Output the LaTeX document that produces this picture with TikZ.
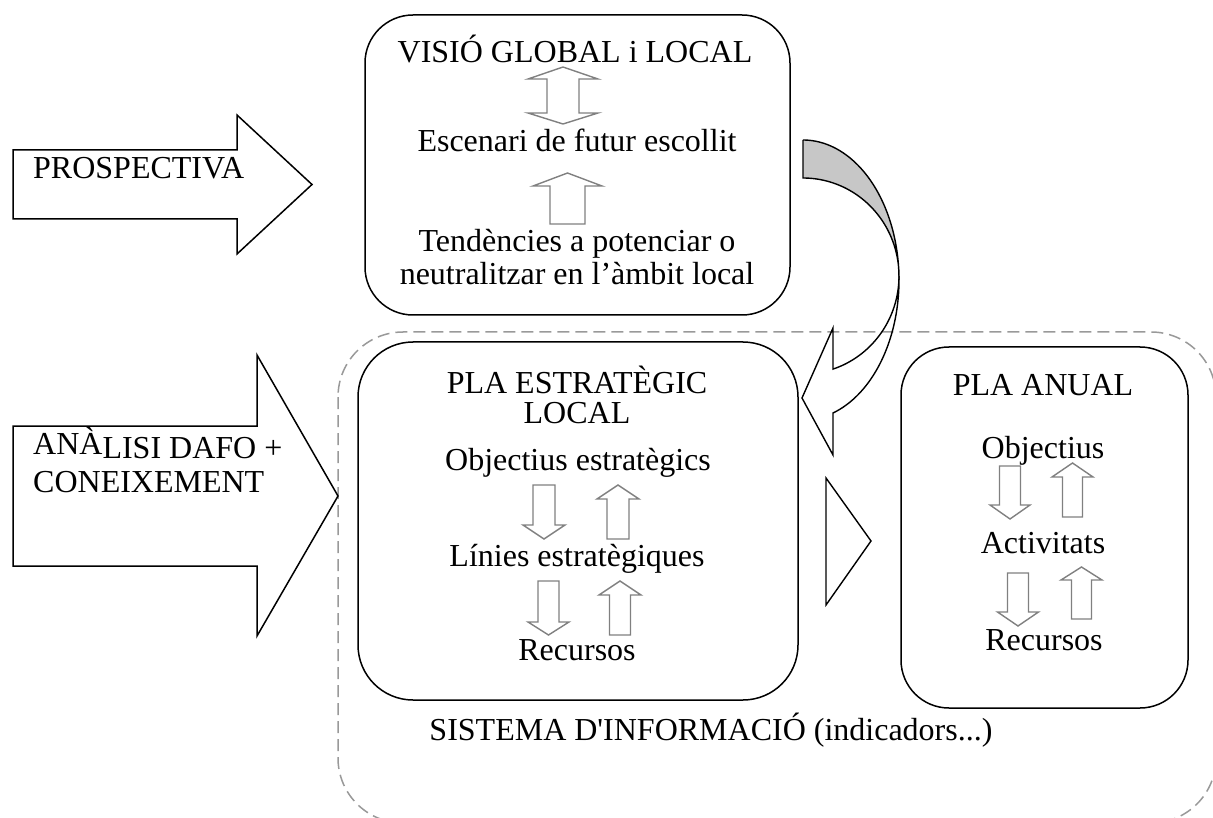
\documentclass[tikz,border=0pt]{standalone}
\usepackage{fontspec}
\setmainfont{Liberation Serif}[Ligatures=TeXOff]
% up/down block arrows: centre x, tip y, head base y, tail y, half head width, half shaft width
\newcommand{\UpBlock}[6]{\draw[blockarrow] ({#1},{#2}) -- ({#1+#5},{#3}) -- ({#1+#6},{#3}) -- ({#1+#6},{#4}) -- ({#1-#6},{#4}) -- ({#1-#6},{#3}) -- ({#1-#5},{#3}) -- cycle;}
\newcommand{\DownBlock}[6]{\draw[blockarrow] ({#1},{#2}) -- ({#1+#5},{#3}) -- ({#1+#6},{#3}) -- ({#1+#6},{#4}) -- ({#1-#6},{#4}) -- ({#1-#6},{#3}) -- ({#1-#5},{#3}) -- cycle;}
\begin{document}
\begin{tikzpicture}[x=1pt,y=-1pt,
  lbl/.style={anchor=base, inner sep=0pt, font=\fontsize{32}{38}\selectfont},
  lbll/.style={lbl, anchor=base west},
  panel/.style={draw=black, line width=1.5pt, rounded corners=#1},
  bigarrow/.style={draw=black, line width=1.5pt, line join=miter},
  blockarrow/.style={draw=black!50, line width=1.4pt, fill=white, line join=miter},
  curvedge/.style={draw=black, line width=1.4pt, line join=miter},
  infoframe/.style={draw=black!40, line width=1.5pt, dash pattern=on 12pt off 6pt, rounded corners=65pt}]
\useasboundingbox (0,0) rectangle (1213,818);
\begin{scope}
\clip (0,0) rectangle (1213,818);
% information system frame (runs past the page edge)
\draw[infoframe] (338,332) rectangle (1216,823);
\end{scope}

% input arrows on the left
\draw[bigarrow] (13,150) -- (237,150) -- (237,115) -- (312,184.5) -- (237,254) -- (237,219) -- (13,219) -- cycle;
\node[lbll] (prosp) at (33,179) {PROSPECTIVA};
\draw[bigarrow] (13,426) -- (257,426) -- (257,355) -- (338,496) -- (257,636) -- (257,566) -- (13,566) -- cycle;
\node[lbll] (dafo) at (33,458) {\raisebox{4pt}{ANÀ}LISI DAFO +};
\node[lbll] (conei) at (33,492) {CONEIXEMENT};

% global and local vision
\draw[panel=48pt] (365,15) rectangle (790,315);
\node[lbl] (visio) at (575,63) {VISIÓ GLOBAL i LOCAL};
\draw[blockarrow] (563,67) -- (598,79) -- (579,79) -- (579,113) -- (598,113) -- (563,124) -- (528,113) -- (547,113) -- (547,79) -- (528,79) -- cycle;
\node[lbl] (escen) at (577,152) {Escenari de futur escollit};
\UpBlock{567.5}{173}{186}{224}{34.5}{17.5}
\node[lbl] (tend1) at (577,252) {Tendències a potenciar o};
\node[lbl] (tend2) at (577,285) {neutralitzar en l’àmbit local};

% curved arrow from the vision box down to the strategic plan
\draw[curvedge, fill=black!22] (803,140) -- (803,178)
  -- plot[domain=-90:0, samples=60] ({803+96*cos(\x)},{276+98*sin(\x)})
  -- plot[domain=0:-90, samples=60] ({803+96*cos(\x)},{280+140*sin(\x)}) -- cycle;
\draw[curvedge] plot[domain=0:71.8, samples=60] ({803+96*cos(\x)},{280+140*sin(\x)})
  -- (833,455) -- (802,398) -- (833,328)
  -- plot[domain=71.8:0, samples=60] ({803+96*cos(\x)},{276+98*sin(\x)});

% local strategic plan
\draw[panel=55pt] (358,342) rectangle (798,700);
\node[lbl] (pla) at (577,393) {PLA ESTRATÈGIC};
\node[lbl] (local) at (577,423) {LOCAL};
\node[lbl] (obj) at (578,470) {Objectius estratègics};
\DownBlock{544}{539}{525}{485}{21}{11}
\UpBlock{618}{485}{499}{539}{21}{11}
\node[lbl] (lin) at (577,566) {Línies estratègiques};
\DownBlock{548.5}{635}{622}{581}{20.5}{10.5}
\UpBlock{620}{581}{595}{635}{21}{10.5}
\node[lbl] (rec) at (577,660) {Recursos};

% link between the two plans
\draw[curvedge] (826,478) -- (871,541) -- (826,605) -- cycle;

% annual plan
\draw[panel=48pt] (901,347) rectangle (1188,708);
\node[lbl] (anual) at (1043,395) {PLA ANUAL};
\node[lbl] (aobj) at (1043,458) {Objectius};
\DownBlock{1010}{519}{505}{466}{20}{10.5}
\UpBlock{1072.5}{463}{477}{517}{20.5}{10}
\node[lbl] (act) at (1043,553) {Activitats};
\DownBlock{1018}{626}{612}{573}{20.5}{10.5}
\UpBlock{1081.5}{567}{580}{619}{20.5}{10}
\node[lbl] (arec) at (1044,650) {Recursos};

\node[lbl] (sist) at (711,740) {SISTEMA D'INFORMACIÓ (indicadors...)};
\end{tikzpicture}
\end{document}
